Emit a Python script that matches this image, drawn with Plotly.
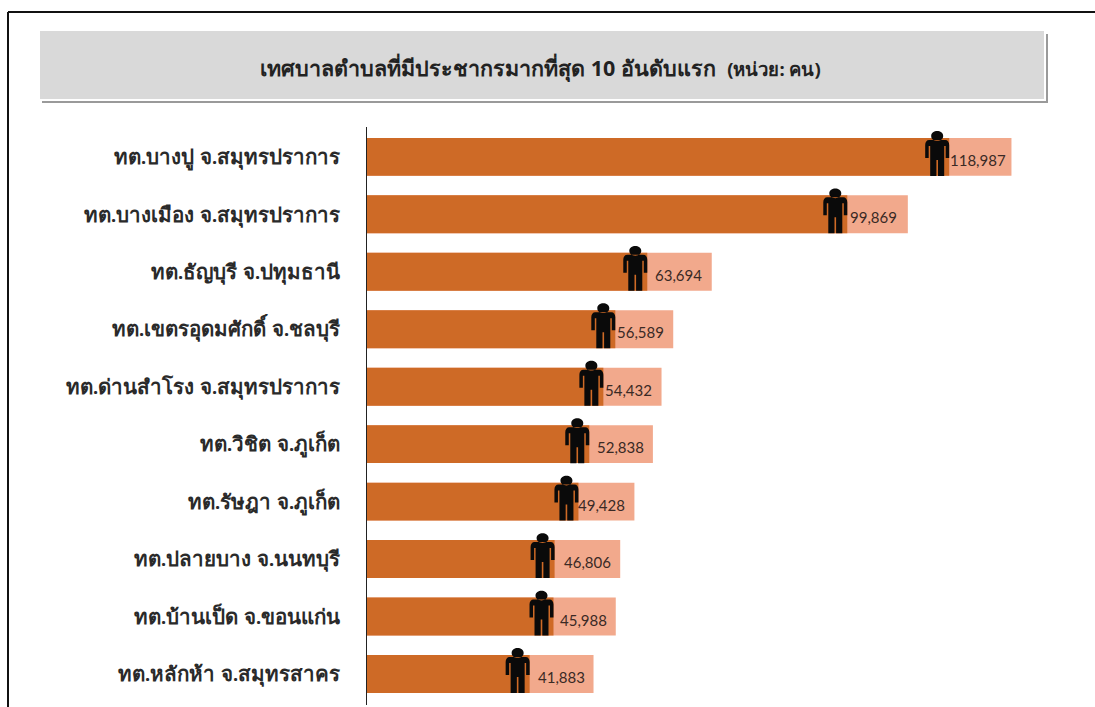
import plotly.graph_objects as go

municipalities = ["ทต.บางปู จ.สมุทรปราการ", "ทต.บางเมือง จ.สมุทรปราการ", "ทต.ธัญบุรี จ.ปทุมธานี",
                  "ทต.เขตรอุดมศักดิ์ จ.ชลบุรี", "ทต.ด่านสำโรง จ.สมุทรปราการ", "ทต.วิชิต จ.ภูเก็ต",
                  "ทต.รัษฎา จ.ภูเก็ต", "ทต.ปลายบาง จ.นนทบุรี", "ทต.บ้านเป็ด จ.ขอนแก่น", "ทต.หลักห้า จ.สมุทรสาคร"]
population = [118987, 99869, 63694, 56589, 54432, 52838, 49428, 46806, 45988, 41883]
# level of the dark fill; each person icon stands just inside its end
fill_level = [107500, 88700, 51800, 45900, 43700, 41100, 39100, 34700, 34500, 30100]

W, H = 1095, 707
def yf(px):
    return 1 - px / H

label_shift = [-1, 1, 6, 0, 0, 6, -2, 7, 4, 6]
PERSON = ("M -18 21 C -18 27.5 -6 27.5 -6 21 C -6 14.5 -18 14.5 -18 21 Z "
          "M -20 17 L -4 17 C -1.5 17 0 15 0 12 L 0 -1 L -3.5 -1 L -3.5 11 L -5 11 L -5 -19 L -11.2 -19 L -11.2 -3 L -12.8 -3 "
          "L -12.8 -19 L -19 -19 L -19 11 L -20.5 11 L -20.5 -1 L -24 -1 L -24 12 C -24 15 -22.5 17 -20 17 Z")

fig = go.Figure()
fig.add_bar(y=municipalities, x=population, orientation="h", marker=dict(color="#F2A98C", line_width=0),
            width=0.66, name="ประชากร", hoverinfo="y+x")
fig.add_bar(y=municipalities, x=fill_level, orientation="h", marker=dict(color="#CE6A26", line_width=0),
            width=0.66, hoverinfo="skip")

shapes = [
    dict(type="line", xref="paper", yref="paper", x0=8 / W, x1=8 / W, y0=yf(12), y1=yf(707), line=dict(color="#111", width=2)),
    dict(type="line", xref="paper", yref="paper", x0=8 / W, x1=1, y0=yf(12), y1=yf(12), line=dict(color="#111", width=2)),
    dict(type="rect", xref="paper", yref="paper", x0=42 / W, x1=1048 / W, y0=yf(34), y1=yf(103), fillcolor="#9A9A9A", line_width=0, layer="below"),
    dict(type="rect", xref="paper", yref="paper", x0=40 / W, x1=1046 / W, y0=yf(31), y1=yf(101), fillcolor="#FFFFFF", line_width=0, layer="below"),
    dict(type="rect", xref="paper", yref="paper", x0=40 / W, x1=1044 / W, y0=yf(31), y1=yf(99), fillcolor="#D9D9D9", line_width=0, layer="below"),
]
for name, lvl in zip(municipalities, fill_level):
    shapes.append(dict(type="path", xsizemode="pixel", ysizemode="pixel", xref="x", yref="y", xanchor=lvl,
                       yanchor=name, path=PERSON, fillcolor="#0A0A0A", line_width=0, layer="above"))
annotations = [dict(x=lvl, y=name, xref="x", yref="y", text=f"{v:,}", showarrow=False, xanchor="left", xshift=s, yshift=-3,
                    font=dict(family="Lato, Open Sans, sans-serif", size=15, color="#3A2A25"))
               for name, lvl, v, s in zip(municipalities, fill_level, population, label_shift)]

fig.update_layout(
    width=W, height=H, margin=dict(l=0, r=0, t=0, b=0), autosize=False, showlegend=False,
    paper_bgcolor="white", plot_bgcolor="white", barmode="overlay", bargap=0.34,
    title=dict(text='<b>เทศบาลตำบลที่มีประชากรมากที่สุด 10 อันดับแรก</b>  <span style="font-size:18.5px"><b>(หน่วย: คน)</b></span>',
               x=540.5 / W, xanchor="center", y=yf(68), yanchor="middle",
               font=dict(family="Noto Sans, sans-serif", size=21.5, color="#222")),
    xaxis=dict(domain=[366.5 / W, 1], range=[0, 134400], visible=False),
    yaxis=dict(domain=[yf(705), yf(127)], range=[9.54, -0.52], type="category", categoryorder="array",
               categoryarray=municipalities, showline=True, linecolor="#222", linewidth=1, showgrid=False,
               ticks="", ticklabelstandoff=21,
               tickfont=dict(family="Noto Sans, sans-serif", size=20.5, color="#2A2A2A", weight=600)),
    shapes=shapes, annotations=annotations,
)
fig.write_html("out.html", config={"displayModeBar": False},
               post_script="document.body.style.margin='0';document.documentElement.style.overflow='hidden';")
